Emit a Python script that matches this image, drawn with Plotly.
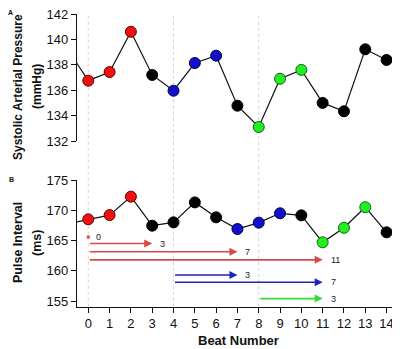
import plotly.graph_objects as go

# ---- data ----
beats = list(range(0, 15))
sap = [136.75, 137.43, 140.6, 137.2, 135.96, 138.14, 138.72, 134.78, 133.1,
       136.9, 137.6, 135.0, 134.34, 139.22, 138.38]
sap_colors = ["red", "red", "red", "black", "blue", "blue", "blue", "black",
              "green", "green", "green", "black", "black", "black", "black"]
sap_edges = [-1, 15]
sap_edge_vals = [139.3, 138.1]

pi = [168.5, 169.2, 172.25, 167.45, 168.0, 171.3, 168.83, 166.9, 167.95,
      169.5, 169.16, 164.7, 167.1, 170.5, 166.35]
pi_colors = ["red", "red", "red", "black", "black", "black", "black", "blue",
             "blue", "blue", "black", "green", "green", "green", "black"]
pi_edges = [-1, 15]
pi_edge_vals = [167.75, 166.5]

arrow_start = [0, 0, 0, 0, 4, 4, 8]
arrow_end = [0, 3, 7, 11, 7, 11, 11]
arrow_y = [165.6, 164.5, 163.15, 161.8, 159.3, 158.1, 155.4]
arrow_label = ["0", "3", "7", "11", "3", "7", "3"]
arrow_group = ["red", "red", "red", "red", "blue", "blue", "green"]

vlines = [0, 4, 8]
x_ticks = list(range(0, 15))
sap_ticks = [132, 134, 136, 138, 140, 142]
pi_ticks = [155, 160, 165, 170, 175]

# ---- styles ----
fill = {"red": "#ee1111", "blue": "#1111cc", "green": "#22ee22", "black": "#000000"}
edge = {"red": "#660000", "blue": "#000044", "green": "#116611", "black": "#000000"}
arrow_col = {"red": "#d94848", "blue": "#2222bb", "green": "#33dd33"}

# page body has an 8px margin; figure fills the rest of the 400x349 window
OFF = 8
W, H = 400 - OFF, 349 - OFF
def px(p):  # page pixel from left -> paper fraction
    return (p - OFF) / W
def py(p):  # page pixel from top -> paper fraction
    return (H - (p - OFF)) / H

FONT = "Liberation Sans, Arial, sans-serif"
fig = go.Figure()

def full_line(xs, ys, exs, evs):
    return [exs[0]] + xs + [exs[1]], [evs[0]] + ys + [evs[1]]

# top panel
lx, lv = full_line(beats, sap, sap_edges, sap_edge_vals)
fig.add_trace(go.Scatter(x=lx, y=lv, mode="lines", line=dict(color="#111", width=1.2),
                         xaxis="x2", yaxis="y2", hoverinfo="skip"))
fig.add_trace(go.Scatter(x=beats, y=sap, mode="markers", xaxis="x2", yaxis="y2",
                         cliponaxis=False,
                         marker=dict(size=11, color=[fill[c] for c in sap_colors],
                                     line=dict(color=[edge[c] for c in sap_colors], width=1))))
# bottom panel
lx, lv = full_line(beats, pi, pi_edges, pi_edge_vals)
fig.add_trace(go.Scatter(x=lx, y=lv, mode="lines", line=dict(color="#111", width=1.2),
                         xaxis="x", yaxis="y", hoverinfo="skip"))
fig.add_trace(go.Scatter(x=beats, y=pi, mode="markers", xaxis="x", yaxis="y",
                         cliponaxis=False,
                         marker=dict(size=11, color=[fill[c] for c in pi_colors],
                                     line=dict(color=[edge[c] for c in pi_colors], width=1))))

annotations = []
# arrows
for s, e, yv, lab, g in zip(arrow_start, arrow_end, arrow_y, arrow_label, arrow_group):
    if s == e:
        fig.add_trace(go.Scatter(x=[s], y=[yv], mode="markers", xaxis="x", yaxis="y",
                                 marker=dict(symbol="square", size=3, color=arrow_col[g])))
    else:
        annotations.append(dict(x=e, y=yv, ax=s, ay=yv, xref="x", yref="y",
                                axref="x", ayref="y", showarrow=True, arrowhead=2,
                                arrowsize=1, arrowwidth=1.6, arrowcolor=arrow_col[g],
                                text=""))
    annotations.append(dict(x=e + 0.28, y=yv, xref="x", yref="y", text=lab,
                            showarrow=False, xanchor="left", yanchor="middle",
                            font=dict(size=9, color="#222", family=FONT)))

def label(xp, yp, text, size, angle=0):
    return dict(x=px(xp), y=py(yp), xref="paper", yref="paper", text=text,
                textangle=angle, showarrow=False, xanchor="center", yanchor="middle",
                font=dict(size=size, color="#111", family=FONT))

annotations += [
    label(18, 87, "<b>Systolic Arterial Pressure</b>", 12, -90),
    label(37, 87, "<b>(mmHg)</b>", 12, -90),
    label(18, 243, "<b>Pulse Interval</b>", 12.5, -90),
    label(37, 243, "<b>(ms)</b>", 12.5, -90),
    label(238, 340, "<b>Beat Number</b>", 13),
    label(10, 13, "<b>A</b>", 7),
    label(11, 179, "<b>B</b>", 7),
]

shapes = [dict(type="line", xref="x", yref="paper", x0=v, x1=v,
               y0=py(306.7), y1=py(13), layer="below",
               line=dict(color="#d4d4d4", width=1, dash="dot")) for v in vlines]

xr = [-0.53, 14.63]
axis_common = dict(showgrid=False, zeroline=False, showline=True, linecolor="#111",
                   linewidth=1.2, ticks="outside", ticklen=5, tickcolor="#111",
                   tickwidth=1.2, automargin=False, ticklabeloverflow="allow",
                   tickfont=dict(size=13, color="#111", family=FONT))

fig.update_layout(
    width=W, height=H, margin=dict(l=0, r=0, t=0, b=0, pad=0, autoexpand=False),
    paper_bgcolor="white", plot_bgcolor="white", showlegend=False,
    annotations=annotations, shapes=shapes,
    xaxis=dict(domain=[px(77), 1], range=xr, anchor="y", tickmode="array",
               tickvals=x_ticks, **axis_common),
    yaxis=dict(domain=[py(306.7), py(180)], range=[154.06, 175], anchor="x",
               tickmode="array", tickvals=pi_ticks, **axis_common),
    xaxis2=dict(domain=[px(77), 1], range=xr, anchor="y2", visible=False),
    yaxis2=dict(domain=[py(141), py(14)], range=[132, 142], anchor="x2",
                tickmode="array", tickvals=sap_ticks, **axis_common),
)

fig.write_html("out.html")
